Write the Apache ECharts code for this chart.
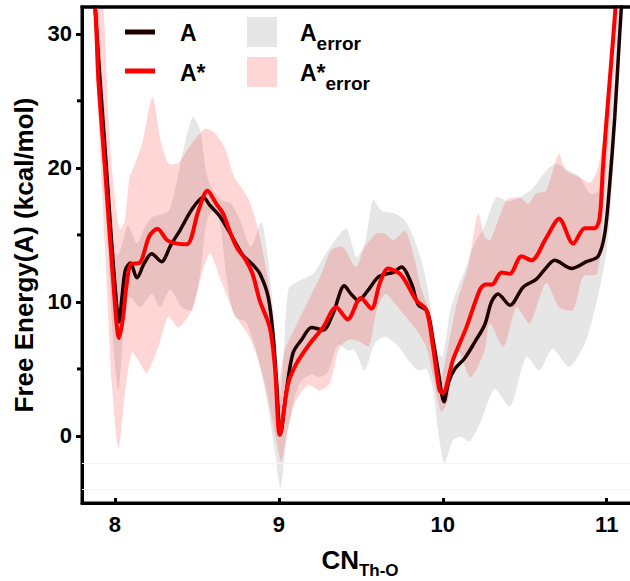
<!DOCTYPE html>
<html><head><meta charset="utf-8">
<script src="https://cdn.jsdelivr.net/npm/echarts@6/dist/echarts.min.js"></script>
<style>html,body{margin:0;padding:0;background:#fff}#c{width:630px;height:581px}</style>
</head><body><div id="c"></div>
<script>
// ---- data ----
const xTicks = [8, 9, 10, 11];
const yTicks = [0, 10, 20, 30];
const yMinorTicks = [5, 15, 25];
const faintLines = [-2, -4];

// A (black)
const aX = [7.86, 7.88, 7.91, 7.94, 7.97, 8.0, 8.026, 8.045, 8.065, 8.095, 8.135, 8.18, 8.225, 8.285, 8.34, 8.40, 8.47, 8.54, 8.58, 8.64, 8.70, 8.78, 8.84, 8.885, 8.935, 8.965, 8.987, 9.01, 9.047, 9.087, 9.14, 9.20, 9.27, 9.33, 9.40, 9.44, 9.485, 9.54, 9.606, 9.66, 9.70, 9.748, 9.809, 9.85, 9.905, 9.94, 9.97, 10.008, 10.035, 10.073, 10.134, 10.195, 10.256, 10.297, 10.337, 10.41, 10.49, 10.571, 10.62, 10.683, 10.785, 10.876, 10.947, 10.988, 11.018, 11.049, 11.079, 11.10];
const aY = [36.5, 32, 26.5, 21.5, 16.3, 11.4, 8.5, 10.5, 12.4, 12.9, 11.8, 12.9, 13.6, 13.0, 14.2, 15.4, 16.9, 17.8, 17.2, 16.4, 15.2, 13.5, 12.8, 12.1, 10.4, 7.6, 3.9, 0.1, 3.4, 6.2, 7.2, 8.1, 7.9, 9.1, 11.2, 10.6, 10.1, 10.8, 11.86, 12.1, 12.2, 12.6, 11.37, 9.8, 9.3, 7.2, 5.0, 2.55, 4.0, 5.0, 5.8, 7.0, 8.3, 10.0, 10.6, 9.75, 11.1, 11.7, 12.4, 13.1, 12.5, 13.0, 13.4, 15.1, 18.8, 23.8, 30, 34];

// A* (red)
const bX = [7.86, 7.885, 7.90, 7.94, 7.99, 8.026, 8.05, 8.07, 8.10, 8.15, 8.21, 8.26, 8.32, 8.38, 8.44, 8.51, 8.565, 8.62, 8.66, 8.70, 8.742, 8.80, 8.84, 8.884, 8.945, 8.976, 9.006, 9.057, 9.108, 9.19, 9.27, 9.35, 9.42, 9.50, 9.565, 9.616, 9.667, 9.738, 9.779, 9.84, 9.90, 9.94, 9.98, 10.0, 10.063, 10.144, 10.226, 10.26, 10.30, 10.358, 10.409, 10.48, 10.541, 10.632, 10.71, 10.795, 10.866, 10.927, 10.957, 10.977, 11.008, 11.049, 11.065];
const bY = [35.5, 31, 26.5, 20, 11.6, 7.3, 8.8, 11.1, 12.85, 12.9, 14.9, 15.45, 14.6, 14.35, 14.3, 16.8, 18.3, 17.3, 16.6, 15.3, 14.1, 13.1, 12.1, 10.1, 8.1, 5.2, 0.1, 3.9, 5.4, 6.9, 8.1, 9.6, 8.7, 10.3, 9.5, 11.4, 12.5, 12.1, 11.4, 10.1, 9.4, 6.7, 3.4, 3.2, 5.7, 8.1, 10.9, 11.3, 11.3, 12.2, 12.1, 13.4, 13.1, 14.8, 16.2, 14.35, 15.5, 15.5, 16.3, 20.1, 25, 31.2, 34];

// A_error band (grey): lower and upper edges
const aErrLoX = [7.85, 7.88, 7.92, 7.96, 7.99, 8.022, 8.045, 8.073, 8.11, 8.154, 8.226, 8.276, 8.337, 8.41, 8.47, 8.52, 8.56, 8.60, 8.64, 8.68, 8.73, 8.80, 8.87, 8.93, 8.98, 9.01, 9.04, 9.08, 9.13, 9.20, 9.25, 9.30, 9.36, 9.42, 9.463, 9.524, 9.585, 9.646, 9.72, 9.80, 9.85, 9.90, 9.94, 9.97, 10.01, 10.063, 10.11, 10.165, 10.236, 10.317, 10.41, 10.51, 10.59, 10.67, 10.77, 10.87, 10.94, 11.0, 11.04, 11.07, 11.09, 11.11];
const aErrLoY = [36, 30, 22, 14, 7, 3.4, 6.5, 10.4, 10.2, 9.6, 10.6, 9.6, 10.9, 9.6, 9.4, 12, 16.0, 16.8, 16.0, 12, 8.9, 8.5, 6, 2.5, -1.5, -3.9, -1, 2, 4, 4.6, 4.4, 4.8, 6.8, 6.4, 6.4, 4.9, 6.9, 7.4, 6.8, 5.5, 4.9, 5.0, 3.5, 0.5, -2.0, -0.3, -0.05, -0.4, 1.2, 3.5, 2.2, 5.9, 4.9, 6.5, 5.16, 7.0, 10.1, 13.85, 20.05, 27.5, 32, 36];
const aErrUpX = [7.86, 7.90, 7.94, 7.97, 7.99, 8.02, 8.05, 8.08, 8.135, 8.18, 8.226, 8.28, 8.33, 8.37, 8.40, 8.44, 8.477, 8.52, 8.56, 8.60, 8.65, 8.71, 8.76, 8.83, 8.894, 8.935, 8.965, 8.99, 9.01, 9.03, 9.06, 9.13, 9.21, 9.30, 9.41, 9.474, 9.524, 9.575, 9.626, 9.707, 9.768, 9.829, 9.89, 9.93, 9.97, 10.0, 10.05, 10.134, 10.2, 10.25, 10.327, 10.40, 10.47, 10.55, 10.632, 10.69, 10.77, 10.835, 10.9, 10.95, 11.0, 11.04, 11.07, 11.09];
const aErrUpY = [40, 32, 24, 18.5, 14.1, 13.5, 14.5, 15.7, 14.35, 15.5, 16.3, 16.5, 16.8, 18.5, 20.3, 22.5, 23.8, 22.8, 19.5, 18.3, 17.6, 17.33, 16.2, 14.1, 15.96, 13.1, 9.5, 5.5, 3.0, 6.0, 11.0, 11.6, 12.1, 13.85, 15.46, 13.35, 14.35, 17.6, 16.8, 16.6, 16.1, 14.6, 12.1, 9.38, 6.4, 5.9, 9.63, 12.36, 14.5, 15.5, 17.8, 17.5, 17.8, 18.5, 19.8, 20.3, 19.8, 19.3, 18.07, 18.3, 22.5, 28.7, 33, 36];

// A*_error band (pink): lower and upper edges
const bErrLoX = [7.85, 7.87, 7.89, 7.95, 7.98, 8.022, 8.06, 8.104, 8.15, 8.195, 8.266, 8.327, 8.388, 8.47, 8.52, 8.58, 8.65, 8.73, 8.83, 8.915, 8.976, 9.016, 9.05, 9.10, 9.18, 9.25, 9.31, 9.37, 9.43, 9.50, 9.55, 9.60, 9.65, 9.70, 9.76, 9.84, 9.90, 9.94, 9.99, 10.03, 10.09, 10.17, 10.256, 10.287, 10.37, 10.45, 10.53, 10.63, 10.71, 10.795, 10.856, 10.94, 10.98, 11.02, 11.05, 11.07];
const bErrLoY = [36, 32, 26.5, 11.6, 4.2, -0.9, 3.0, 6.2, 5.5, 4.7, 6.65, 8.9, 8.1, 9.4, 11.6, 13.6, 11.5, 9.1, 7.15, 3.9, 0.2, -1.9, 0.3, 2.5, 3.8, 3.4, 3.9, 6.6, 7.2, 7.0, 6.7, 9.5, 10.6, 10.0, 9.1, 7.9, 6.6, 4.5, 1.8, 2.6, 6.4, 4.4, 6.4, 8.4, 6.65, 9.6, 8.4, 11.4, 9.6, 9.4, 11.9, 12.1, 17, 24, 30, 35];
const bErrUpX = [7.86, 7.93, 7.96, 7.99, 8.03, 8.06, 8.09, 8.12, 8.17, 8.23, 8.28, 8.33, 8.39, 8.45, 8.549, 8.61, 8.67, 8.73, 8.81, 8.87, 8.92, 8.965, 8.996, 9.037, 9.10, 9.16, 9.26, 9.32, 9.39, 9.47, 9.524, 9.596, 9.646, 9.70, 9.77, 9.83, 9.87, 9.91, 9.95, 9.99, 10.03, 10.09, 10.154, 10.215, 10.256, 10.29, 10.39, 10.47, 10.52, 10.571, 10.63, 10.69, 10.71, 10.75, 10.835, 10.9, 10.947, 10.98, 11.018, 11.04, 11.06];
const bErrUpY = [38, 32, 24, 19, 15.4, 16.0, 19.3, 20.2, 22, 25.3, 22, 20.3, 20.4, 21.5, 22.9, 22.6, 21.5, 19.3, 17.8, 15.6, 12.6, 8.9, 3.9, 6.4, 8.1, 9.6, 12.1, 13.85, 14.1, 12.6, 14.1, 15.1, 15.1, 14.6, 15.3, 13.1, 10.9, 9.6, 6.4, 4.4, 6.5, 10.1, 12.6, 16.6, 14.84, 14.6, 17.6, 17.8, 17.3, 18.1, 18.3, 20.55, 21.05, 19.8, 19.3, 18.9, 20.05, 22.5, 27.5, 32, 35];

// ---- chart ----
const FONT = '"Liberation Sans", Arial, Helvetica, sans-serif';
const BLACK = '#1f0000', RED = '#ff0000';
const GREY_FILL = '#e6e6e6', PINK_FILL = 'rgba(255,0,0,0.16)';
const X_MIN = 7.8, X_MAX = 11.154, Y_MIN = -5, Y_MAX = 32;
const GRID = { left: 82, right: -2, top: 7, bottom: 78 };

function pairs(xs, ys) { return xs.map((x, i) => [x, ys[i]]); }

function band(name, loX, loY, upX, upY, fill, z) {
  return {
    type: 'custom', name: name, z: z, silent: true,
    data: [[loX[0], loY[0]]],
    renderItem: function (params, api) {
      const pts = [];
      for (let i = 0; i < loX.length; i++) pts.push(api.coord([loX[i], loY[i]]));
      for (let i = upX.length - 1; i >= 0; i--) pts.push(api.coord([upX[i], upY[i]]));
      const cs = params.coordSys;
      return {
        type: 'polygon',
        shape: { points: pts, smooth: 0.25 },
        style: { fill: fill, stroke: null },
        clipPath: { type: 'rect', shape: { x: cs.x, y: cs.y, width: cs.width, height: cs.height } }
      };
    }
  };
}

const chart = echarts.init(document.getElementById('c'), null, { renderer: 'svg' });
const bold = (size) => ({ fontSize: size, fontWeight: 'bold', fontFamily: FONT, color: '#000' });

function legendGraphics() {
  return [
    { type: 'rect', shape: { x: 125, y: 29.5, width: 30, height: 5 }, style: { fill: BLACK } },
    { type: 'text', x: 180, y: 32.5, style: { text: 'A', verticalAlign: 'middle', fill: '#000', font: 'bold 23px ' + FONT } },
    { type: 'rect', shape: { x: 247, y: 17, width: 30, height: 30 }, style: { fill: GREY_FILL } },
    { type: 'text', x: 300, y: 12.5, style: {
        text: '{m|A}{s|error}', verticalAlign: 'top',
        rich: {
          m: { fontSize: 23, fontWeight: 'bold', fontFamily: FONT, fill: '#000', lineHeight: 40, verticalAlign: 'middle' },
          s: { fontSize: 19, fontWeight: 'bold', fontFamily: FONT, fill: '#000', verticalAlign: 'bottom' }
        } } },
    { type: 'rect', shape: { x: 125, y: 68.5, width: 30, height: 5 }, style: { fill: RED } },
    { type: 'text', x: 180, y: 72.5, style: { text: 'A*', verticalAlign: 'middle', fill: '#000', font: 'bold 23px ' + FONT } },
    { type: 'rect', shape: { x: 247, y: 57, width: 30, height: 30 }, style: { fill: PINK_FILL } },
    { type: 'text', x: 300, y: 52.5, style: {
        text: '{m|A*}{s|error}', verticalAlign: 'top',
        rich: {
          m: { fontSize: 23, fontWeight: 'bold', fontFamily: FONT, fill: '#000', lineHeight: 40, verticalAlign: 'middle' },
          s: { fontSize: 19, fontWeight: 'bold', fontFamily: FONT, fill: '#000', verticalAlign: 'bottom' }
        } } }
  ];
}

const option = {
  animation: false,
  backgroundColor: '#fff',
  grid: Object.assign({ outerBoundsMode: 'none', containLabel: false,
    show: true, borderColor: '#000', borderWidth: 3, backgroundColor: 'rgba(0,0,0,0)' }, GRID),
  xAxis: [{
    type: 'value', min: X_MIN, max: X_MAX, position: 'bottom',
    axisLine: { show: true, onZero: false, lineStyle: { color: '#000', width: 3 } },
    axisTick: { show: true, customValues: xTicks, inside: true, length: 5, lineStyle: { color: '#000', width: 3 } },
    axisLabel: Object.assign({ customValues: xTicks, margin: 10 }, bold(22)),
    splitLine: { show: false },
    name: '{m|CN}{s|Th-O}', nameLocation: 'middle', nameGap: 38,
    nameTextStyle: {
      padding: [0, 0, 0, 6],
      rich: {
        m: Object.assign({ lineHeight: 38, verticalAlign: 'middle' }, bold(26)),
        s: Object.assign({ verticalAlign: 'bottom' }, bold(17))
      }
    }
  }],
  yAxis: [{
    type: 'value', min: Y_MIN, max: Y_MAX, position: 'left',
    axisLine: { show: true, onZero: false, lineStyle: { color: '#000', width: 3 } },
    axisTick: { show: true, customValues: yTicks, length: 6, lineStyle: { color: '#000', width: 3 } },
    axisLabel: Object.assign({ customValues: yTicks, margin: 10 }, bold(22)),
    splitLine: { show: false },
    name: 'Free Energy(A) (kcal/mol)', nameLocation: 'middle', nameGap: 43,
    nameTextStyle: bold(26)
  }],
  series: [
    {
      type: 'line', name: 'ref', data: [], z: 0, silent: true,
      markLine: {
        silent: true, symbol: 'none', label: { show: false },
        lineStyle: { color: '#f3f3f3', width: 1, type: 'solid' },
        data: faintLines.map(v => ({ yAxis: v }))
      }
    },
    band('A_error', aErrLoX, aErrLoY, aErrUpX, aErrUpY, GREY_FILL, 1),
    band('A*_error', bErrLoX, bErrLoY, bErrUpX, bErrUpY, PINK_FILL, 2),
    {
      type: 'line', name: 'A', data: pairs(aX, aY), z: 3,
      smooth: 0.3, showSymbol: false, symbol: 'none', clip: true,
      lineStyle: { color: BLACK, width: 3.5 }, itemStyle: { color: BLACK }
    },
    {
      type: 'line', name: 'A*', data: pairs(bX, bY), z: 4,
      smooth: 0.3, showSymbol: false, symbol: 'none', clip: true,
      lineStyle: { color: RED, width: 4 }, itemStyle: { color: RED }
    }
  ],
  graphic: legendGraphics()
};
chart.setOption(option);

// Plot frame (top border) and minor y ticks, positioned through the axes' scales.
function px(finder, v, fallback) {
  const p = chart.convertToPixel(finder, v);
  const n = Array.isArray(p) ? p[finder.xAxisIndex !== undefined ? 0 : 1] : p;
  return (typeof n === 'number' && isFinite(n)) ? n : fallback;
}
const plotH = 581 - GRID.top - GRID.bottom;
const fy = v => GRID.top + (Y_MAX - v) / (Y_MAX - Y_MIN) * plotH;
const xL = px({ xAxisIndex: 0 }, X_MIN, GRID.left);
const yTop = px({ yAxisIndex: 0 }, Y_MAX, GRID.top);
const frame = [{
  type: 'rect', z: 100, silent: true,
  shape: { x: xL - 1.5, y: yTop - 1.5, width: 632 - xL, height: 3 },
  style: { fill: '#000' }
}];
yMinorTicks.forEach(v => {
  const y = px({ yAxisIndex: 0 }, v, fy(v));
  frame.push({ type: 'rect', z: 100, silent: true, shape: { x: xL - 5, y: y - 1.5, width: 5, height: 3 }, style: { fill: '#000' } });
});
chart.setOption({ graphic: { elements: legendGraphics().concat(frame) } }, { replaceMerge: ['graphic'] });
</script>
</body></html>
